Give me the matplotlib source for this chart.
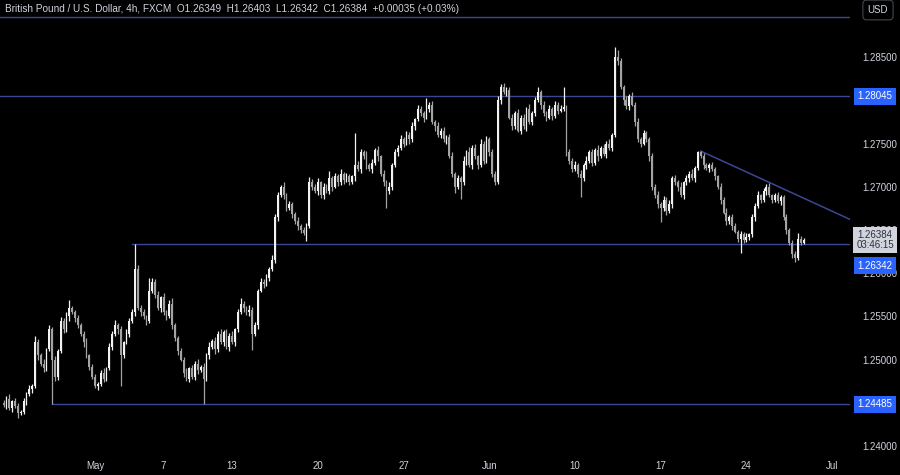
import numpy as np
import pandas as pd
import matplotlib
matplotlib.use("Agg")
import matplotlib.pyplot as plt
import matplotlib.transforms as mtransforms

plt.rcParams["font.family"] = ["Liberation Sans", "DejaVu Sans"]

# GBP/USD 4h candles, prices kept as pips above 1.2000
first_open = 450
close_pips = [
    448, 455, 444, 452, 447, 438, 440, 452, 460, 466,
    470, 520, 505, 495, 490, 512, 535, 500, 480, 510,
    545, 535, 550, 560, 555, 548, 540, 530, 520, 505,
    492, 480, 470, 472, 485, 478, 490, 515, 530, 540,
    535, 505, 520, 530, 545, 555, 605, 560, 555, 550,
    545, 580, 590, 575, 560, 572, 555, 550, 565, 540,
    525, 510, 500, 485, 478, 490, 480, 495, 488, 492,
    478, 505, 515, 522, 512, 530, 520, 532, 515, 528,
    520, 535, 555, 565, 560, 555, 558, 530, 540, 580,
    590, 588, 595, 605, 615, 665, 690, 700, 690, 675,
    680, 668, 660, 655, 650, 646, 655, 705, 700, 695,
    705, 690, 700, 695, 710, 700, 712, 705, 715, 708,
    712, 706, 712, 725, 720, 740, 735, 725, 720, 728,
    742, 735, 715, 705, 695, 700, 725, 740, 745, 755,
    750, 760, 755, 770, 778, 790, 785, 780, 790, 795,
    775, 770, 760, 765, 755, 758, 735, 715, 700, 710,
    705, 730, 740, 725, 745, 735, 725, 750, 730, 755,
    740, 715, 705, 800, 815, 810, 812, 780, 770, 785,
    765, 780, 770, 790, 775, 785, 800, 810, 795, 785,
    780, 790, 782, 795, 788, 790, 792, 740, 730, 720,
    725, 715, 710, 725, 730, 740, 728, 742, 735, 745,
    738, 750, 745, 760, 850, 845, 815, 800, 793, 805,
    795, 775, 755, 750, 762, 755, 735, 700, 690, 680,
    675, 685, 672, 680, 710, 705, 700, 690, 705, 710,
    715, 710, 722, 740, 735, 725, 722, 725, 720, 712,
    700, 685, 670, 660, 665, 655, 648, 640, 645, 638,
    642, 645, 665, 678, 690, 685, 695, 700, 690, 685,
    690, 683, 688, 665, 650, 635, 622, 618, 640, 634.9,
    638.4,
]
upper_wick = [
    4, 3, 5, 2, 4, 3, 2, 4, 3, 5,
    2, 7, 4, 3, 6, 2, 5, 3, 4, 2,
    4, 3, 5, 9, 2, 3, 4, 2, 3, 5,
    2, 3, 4, 2, 3, 5, 2, 4, 3, 6,
    3, 4, 2, 5, 3, 4, 29.2, 5, 3, 4,
    2, 14, 5, 3, 4, 2, 5, 3, 4, 6,
    3, 2, 4, 3, 5, 2, 4, 3, 6, 2,
    4, 3, 5, 2, 4, 3, 6, 2, 4, 3,
    5, 2, 4, 6, 3, 2, 5, 3, 4, 2,
    5, 3, 4, 2, 6, 3, 4, 2, 5, 3,
    4, 2, 3, 5, 2, 4, 3, 6, 4, 3,
    5, 2, 4, 3, 8, 2, 4, 3, 5, 2,
    4, 3, 2, 37, 5, 4, 3, 6, 2, 4,
    3, 5, 2, 4, 3, 5, 2, 4, 3, 5,
    2, 4, 3, 5, 2, 4, 3, 2, 13, 3,
    4, 2, 5, 3, 4, 2, 3, 5, 2, 4,
    3, 5, 2, 6, 3, 4, 2, 5, 3, 4,
    2, 4, 3, 5, 4, 5, 3, 3, 4, 2,
    5, 3, 4, 2, 6, 3, 4, 5, 2, 4,
    3, 5, 2, 4, 3, 5, 23, 2, 4, 3,
    5, 2, 4, 3, 5, 2, 4, 3, 6, 2,
    4, 3, 5, 2, 12, 8, 4, 3, 5, 2,
    4, 3, 5, 2, 4, 3, 2, 4, 3, 5,
    2, 4, 3, 5, 2, 4, 3, 5, 2, 4,
    3, 5, 2, 1.5, 1, 4, 3, 2, 4, 3,
    2, 4, 3, 5, 2, 4, 3, 2, 4, 3,
    5, 2, 4, 3, 5, 2, 4, 3, 4, 2,
    3, 4, 2, 3, 4, 2, 3, 4, 7, 3,
    1.9,
]
lower_wick = [
    3, 5, 2, 4, 3, 5, 2, 3, 4, 2,
    4, 3, 5, 2, 4, 3, 2, 51.5, 4, 3,
    2, 4, 3, 5, 2, 4, 3, 2, 5, 3,
    4, 2, 3, 5, 2, 4, 3, 2, 4, 3,
    5, 35, 3, 2, 4, 3, 5, 2, 4, 3,
    5, 2, 3, 4, 2, 5, 3, 4, 2, 5,
    3, 4, 2, 5, 3, 4, 2, 3, 5, 2,
    29.5, 3, 4, 2, 5, 3, 2, 4, 3, 5,
    2, 4, 3, 2, 5, 3, 4, 19, 3, 4,
    2, 5, 3, 4, 2, 3, 5, 2, 4, 3,
    2, 4, 3, 5, 3, 2, 9, 3, 4, 2,
    5, 3, 4, 2, 3, 5, 2, 4, 3, 5,
    2, 4, 3, 5, 2, 4, 3, 5, 2, 4,
    3, 5, 2, 4, 20, 3, 4, 2, 5, 3,
    4, 2, 5, 3, 4, 2, 3, 5, 2, 4,
    3, 5, 2, 4, 3, 5, 2, 4, 7, 3,
    19, 3, 5, 2, 4, 3, 5, 2, 4, 3,
    5, 4, 3, 2, 4, 3, 5, 2, 4, 3,
    2, 4, 3, 5, 2, 4, 3, 2, 5, 3,
    4, 2, 5, 3, 4, 2, 3, 5, 4, 3,
    2, 4, 22, 3, 5, 2, 4, 3, 5, 2,
    3, 5, 2, 4, 3, 4, 2, 5, 3, 4,
    2, 5, 3, 4, 2, 3, 5, 4, 3, 5,
    16, 3, 5, 2, 4, 3, 5, 2, 4, 3,
    5, 2, 4, 3, 2, 4, 3, 5, 2, 4,
    3, 5, 2, 4, 3, 5, 2, 4, 17, 3,
    2, 4, 3, 5, 2, 4, 3, 5, 2, 4,
    3, 2, 4, 3, 5, 2, 4, 5, 3, 2,
    0.7,
]

tick_dates = ["2024-05-01", "2024-05-07", "2024-05-13", "2024-05-20", "2024-05-27",
              "2024-06-03", "2024-06-10", "2024-06-17", "2024-06-24", "2024-07-01"]
tick_labels = ["May", "7", "13", "20", "27", "Jun", "10", "17", "24", "Jul"]
# 1.28000 and 1.24500 sit behind the level labels, so they are left out
price_ticks = [1.240, 1.250, 1.255, 1.260, 1.265, 1.270, 1.275, 1.285]

# horizontal levels: (price, start time of the line, None = from the left edge)
levels = [(1.28962, None), (1.28045, None),
          (1.26342, "2024-05-03 04:00"), (1.24485, "2024-04-26 12:00")]
label_levels = [1.28045, 1.24485]
trend_anchor = [("2024-06-19 08:00", 1.27413), ("2024-06-25 08:00", 1.27050)]
last_price = 1.26384
last_low = 1.26342
countdown = "03:46:15"
header = ("British Pound / U.S. Dollar, 4h, FXCM  O1.26349  H1.26403  "
          "L1.26342  C1.26384  +0.00035 (+0.03%)")

# 4h bar grid on trading days
days = pd.bdate_range("2024-04-23", "2024-07-05")
grid = [d + pd.Timedelta(hours=4 * j) for d in days for j in range(6)]
start = grid.index(pd.Timestamp("2024-04-23 16:00"))
pos = {t: i - start for i, t in enumerate(grid)}

closes = 1.2 + np.array(close_pips) / 1e4
opens = np.concatenate([[1.2 + first_open / 1e4], closes[:-1]])
highs = np.maximum(opens, closes) + np.array(upper_wick) / 1e4
lows = np.minimum(opens, closes) - np.array(lower_wick) / 1e4
x = np.arange(len(closes))

bg = "#000000"
up_col = "#f2f2f2"
down_col = "#a3a3a3"
line_col = "#3b4796"
blue = "#2962ff"
txt = "#d1d4dc"

fig = plt.figure(figsize=(9, 4.75), dpi=100, facecolor=bg)
ax = fig.add_axes([0, 20 / 475, 850 / 900, 455 / 475], facecolor=bg)

px_per_bar = 2.857
xmin = -3.6 / px_per_bar
xmax = (850 - 3.6) / px_per_bar
ax.set_xlim(xmin, xmax)
ax.set_ylim(1.238988, 1.291590)

up = closes >= opens
cols = np.where(up, up_col, down_col)
ax.vlines(x, lows, highs, colors=cols, lw=0.9, zorder=3)
body = np.maximum(np.abs(closes - opens), 0.00009)
ax.bar(x, body, bottom=np.minimum(opens, closes), width=0.65, color=cols,
       linewidth=0, zorder=4)

for price, t0 in levels:
    x0 = xmin if t0 is None else pos[pd.Timestamp(t0)]
    ax.plot([x0, xmax], [price, price], color=line_col, lw=1, zorder=2)

(t1, p1), (t2, p2) = trend_anchor
k1, k2 = pos[pd.Timestamp(t1)], pos[pd.Timestamp(t2)]
slope = (p2 - p1) / (k2 - k1)
ax.plot([k1, xmax], [p1, p1 + slope * (xmax - k1)], color=line_col, lw=1.1, zorder=2)

for s in ax.spines.values():
    s.set_visible(False)

ax.yaxis.tick_right()
ax.set_yticks(price_ticks)
ax.set_yticklabels(["%.5f" % p for p in price_ticks])
ax.tick_params(axis="y", length=0, pad=9, labelsize=7, labelcolor=txt)
ax.set_xticks([pos[pd.Timestamp(d)] for d in tick_dates])
ax.set_xticklabels(tick_labels)
ax.tick_params(axis="x", length=0, pad=4, labelsize=7, labelcolor=txt)

trans = mtransforms.blended_transform_factory(ax.transAxes, ax.transData)
lab_x = 875 / 850
for p in label_levels:
    ax.text(lab_x, p, "%.5f" % p, transform=trans, ha="center", va="center",
            fontsize=7, color="white", zorder=6, clip_on=False,
            bbox=dict(boxstyle="square,pad=0.35", fc=blue, ec="none"))

ax.text(lab_x, last_price, "%.5f\n%s" % (last_price, countdown), transform=trans,
        ha="center", va="center", fontsize=7, color="#2a2e39", linespacing=1.1,
        zorder=6, clip_on=False,
        bbox=dict(boxstyle="square,pad=0.3", fc="#d1d4dc", ec="none"))
ax.annotate("%.5f" % last_low, xy=(lab_x, last_low), xycoords=trans,
            xytext=(0, -16), textcoords="offset points", ha="center", va="center",
            fontsize=7, color="white", zorder=7, annotation_clip=False,
            bbox=dict(boxstyle="square,pad=0.35", fc=blue, ec="none"))

fig.text(5 / 900, 1 - 9 / 475, header, color=txt, fontsize=7.2, va="center", ha="left")
fig.text(878 / 900, 1 - 10 / 475, "USD", color=txt, fontsize=7, va="center", ha="center",
         bbox=dict(boxstyle="round,pad=0.5,rounding_size=0.4", fc=bg, ec="#434651", lw=0.8))

fig.savefig("out.png", dpi=100, facecolor=bg)
